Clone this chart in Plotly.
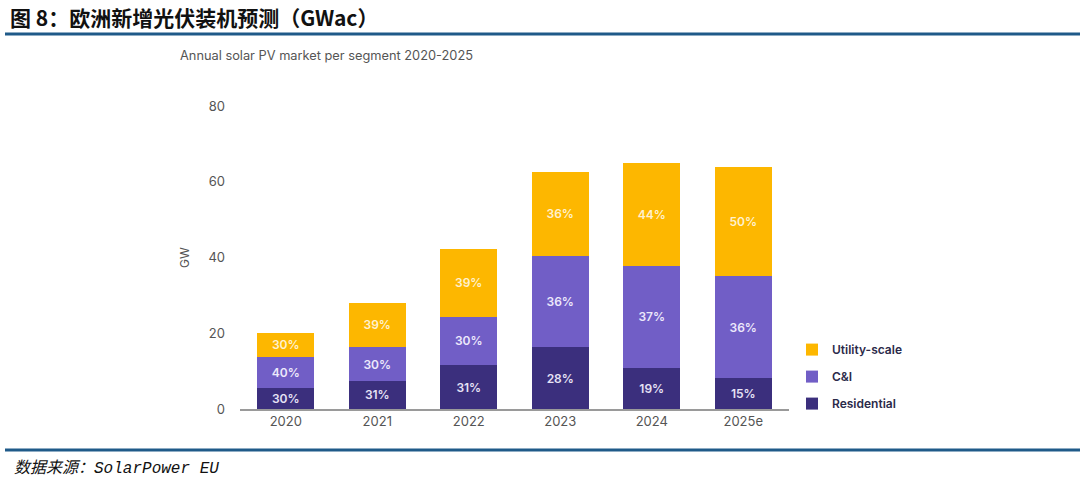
import plotly.graph_objects as go

years = ["2020", "2021", "2022", "2023", "2024", "2025e"]
residential = [5.6, 7.4, 11.6, 16.3, 10.8, 8.1]
ci = [8.1, 8.9, 12.8, 24.0, 27.0, 27.0]
utility = [6.4, 11.8, 17.8, 22.4, 27.2, 28.9]
res_lbl = ["30%", "31%", "31%", "28%", "19%", "15%"]
ci_lbl = ["40%", "30%", "30%", "36%", "37%", "36%"]
util_lbl = ["30%", "39%", "39%", "36%", "44%", "50%"]
y_ticks = [0, 20, 40, 60, 80]

W, H = 1080, 478
L, R, T, B = 240, 789, 106, 409

FONT = "Inter"
lbl_font = dict(family=FONT, size=12, weight=600)


def px(x):
    return (x - L) / (R - L)


def py(y):
    return (B - y) / (B - T)


fig = go.Figure()
fig.add_trace(go.Bar(
    x=years, y=residential, name="Residential", legendgroup="r", legendrank=3,
    marker=dict(color="#3B2F7D", line=dict(width=0)),
    text=res_lbl, textposition="inside", insidetextanchor="middle",
    textangle=0, textfont=dict(color="#E6E2F5", **lbl_font),
    hoverinfo="skip"))
fig.add_trace(go.Bar(
    x=years, y=ci, name="C&I", legendgroup="c", legendrank=2,
    marker=dict(color="#715EC6", line=dict(width=0)),
    text=ci_lbl, textposition="inside", insidetextanchor="middle",
    textangle=0, textfont=dict(color="#ECE8FB", **lbl_font),
    hoverinfo="skip"))
fig.add_trace(go.Bar(
    x=years, y=utility, name="Utility-scale", legendgroup="u", legendrank=1,
    marker=dict(color="#FDB700", line=dict(width=0)),
    text=util_lbl, textposition="inside", insidetextanchor="middle",
    textangle=0, textfont=dict(color="#FFF1CF", **lbl_font),
    hoverinfo="skip"))

fig.update_layout(
    width=W, height=H,
    margin=dict(l=L, r=W - R, t=T, b=H - B, pad=0),
    paper_bgcolor="white", plot_bgcolor="white",
    barmode="stack", bargap=0.377,
    showlegend=True,
    legend=dict(
        x=px(792), y=-0.03, yanchor="bottom", xanchor="left",
        traceorder="grouped", tracegroupgap=8,
        font=dict(family=FONT, size=12, color="#2B2A4A", weight=600),
        itemwidth=30, bgcolor="rgba(0,0,0,0)",
    ),
    xaxis=dict(
        showgrid=False, zeroline=False, showline=True,
        linecolor="#9A9A9A", linewidth=1.5,
        ticks="", tickfont=dict(family=FONT, size=13, color="#555555"),
        range=[-0.5, 5.5], fixedrange=True,
    ),
    yaxis=dict(
        range=[0, 80], tickvals=y_ticks, showgrid=False, zeroline=False,
        showline=False, ticks="", ticklabelstandoff=14,
        tickfont=dict(family=FONT, size=13, color="#555555"),
        title=dict(text="GW", standoff=16,
                   font=dict(family=FONT, size=12, color="#555555")),
    ),
    font=dict(family=FONT),
)

# header / footer rules
for yl in (34, 450):
    fig.add_shape(type="line", xref="paper", yref="paper",
                  x0=px(5), x1=px(W), y0=py(yl), y1=py(yl),
                  line=dict(color="#1F5A89", width=3))

fig.add_annotation(text="<b>图 8：欧洲新增光伏装机预测（GWac）</b>",
                   xref="paper", yref="paper", x=px(8), y=py(17),
                   xanchor="left", yanchor="middle", showarrow=False,
                   font=dict(family="Noto Sans CJK SC", size=21, color="#111111"))
fig.add_annotation(text="Annual solar PV market per segment 2020-2025",
                   xref="paper", yref="paper", x=px(178), y=py(55),
                   xanchor="left", yanchor="middle", showarrow=False,
                   font=dict(family=FONT, size=12.8, color="#555555"))
fig.add_annotation(
    text="<i>数据来源：<span style=\"font-family:'Liberation Mono'\">SolarPower EU</span></i>",
    xref="paper", yref="paper", x=px(12), y=py(466),
    xanchor="left", yanchor="middle", showarrow=False,
    font=dict(family="Noto Sans CJK SC", size=16, color="#111111"))

fig.write_html(
    "out.html",
    config={"displayModeBar": False},
    post_script="document.body.style.margin='0';document.body.style.overflow='hidden';",
)
